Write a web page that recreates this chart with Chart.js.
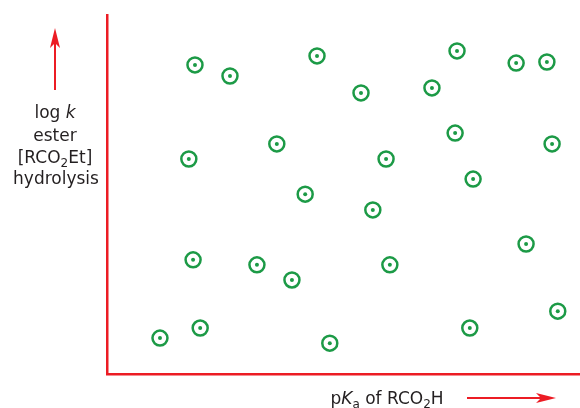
<!DOCTYPE html>
<html>
<head>
<meta charset="utf-8">
<script src="https://cdn.jsdelivr.net/npm/chart.js@4"></script>
<style>
  html, body { margin: 0; padding: 0; background: #fff; }
  #wrap { width: 580px; height: 408px; }
</style>
</head>
<body>
<div id="wrap"><canvas id="grafico"></canvas></div>
<script>
// pKa of RCO2H (arbitrary 0-100 units)
const valoresX = [18.6, 26.0, 44.4, 53.7, 68.7, 74.0, 86.5, 93.0,
    17.3, 35.9, 59.0, 73.6, 94.1, 41.9, 56.2, 77.4,
    18.2, 31.7, 39.1, 59.8, 88.6, 95.3, 11.2, 19.7, 47.1, 76.7];
// log k for ester hydrolysis (arbitrary 0-100 units)
const valoresY = [86.1, 83.0, 88.6, 78.3, 79.7, 90.0, 86.6, 86.9,
    59.9, 64.1, 59.9, 67.1, 64.1, 50.1, 45.7, 54.3,
    31.8, 30.4, 26.2, 30.4, 36.2, 17.5, 10.0, 12.8, 8.6, 12.8];

const VERMELHO = '#ec1c24';
const VERDE = '#1c9a46';
const FONTE = '"DejaVu Sans", sans-serif';

const pontos = valoresX.map((x, i) => ({ x: x, y: valoresY[i] }));

// texto com italico e subscrito, centrado em cx
const desenharTexto = (ctx, partes, cx, base) => {
    const fonte = (p) => (p.it ? 'italic ' : '') + (p.sub ? '12px ' : '17px ') + FONTE;
    let total = 0;
    partes.forEach((p) => { ctx.font = fonte(p); total += ctx.measureText(p.t).width; });
    let x = cx - total / 2;
    partes.forEach((p) => {
        ctx.font = fonte(p);
        ctx.fillText(p.t, x, base + (p.sub ? 4 : 0));
        x += ctx.measureText(p.t).width;
    });
};

const seta = (ctx, x1, y1, x2, y2) => {
    const ang = Math.atan2(y2 - y1, x2 - x1);
    const comp = 20, meia = 5;
    ctx.strokeStyle = VERMELHO;
    ctx.fillStyle = VERMELHO;
    ctx.lineWidth = 2;
    ctx.beginPath();
    ctx.moveTo(x1, y1);
    ctx.lineTo(x2 - Math.cos(ang) * comp * 0.6, y2 - Math.sin(ang) * comp * 0.6);
    ctx.stroke();
    const bx = x2 - Math.cos(ang) * comp, by = y2 - Math.sin(ang) * comp;
    ctx.beginPath();
    ctx.moveTo(x2, y2);
    ctx.lineTo(bx - Math.sin(ang) * meia, by + Math.cos(ang) * meia);
    ctx.lineTo(x2 - Math.cos(ang) * comp * 0.75, y2 - Math.sin(ang) * comp * 0.75);
    ctx.lineTo(bx + Math.sin(ang) * meia, by - Math.cos(ang) * meia);
    ctx.closePath();
    ctx.fill();
};

const rotulos = {
    id: 'rotulos',
    afterDraw(chart) {
        const ctx = chart.ctx;
        ctx.save();
        ctx.fillStyle = '#231f20';
        ctx.textBaseline = 'alphabetic';
        ctx.textAlign = 'left';
        desenharTexto(ctx, [{ t: 'log ' }, { t: 'k', it: true }], 55, 118);
        desenharTexto(ctx, [{ t: 'ester' }], 55, 141);
        desenharTexto(ctx, [{ t: '[RCO' }, { t: '2', sub: true }, { t: 'Et]' }], 55, 163);
        desenharTexto(ctx, [{ t: 'hydrolysis' }], 56, 184);
        desenharTexto(ctx, [{ t: 'p' }, { t: 'K', it: true }, { t: 'a', sub: true },
            { t: ' of RCO' }, { t: '2', sub: true }, { t: 'H' }], 387, 404);
        seta(ctx, 55, 90, 55, 28);
        seta(ctx, 467, 398, 556, 398);
        ctx.restore();
    }
};

new Chart(document.getElementById('grafico'), {
    type: 'scatter',
    data: {
        datasets: [{
            data: pontos,
            pointRadius: 2,
            pointBorderWidth: 0,
            pointBackgroundColor: VERDE,
            clip: false
        }, {
            data: pontos,
            pointRadius: 7.5,
            pointBorderWidth: 2.5,
            pointBorderColor: VERDE,
            pointBackgroundColor: 'rgba(255,255,255,0)',
            clip: false
        }]
    },
    options: {
        responsive: true,
        maintainAspectRatio: false,
        animation: false,
        layout: { autoPadding: false, padding: { left: 107, top: 15, right: 0, bottom: 34 } },
        plugins: { legend: { display: false }, tooltip: { enabled: false } },
        scales: {
            x: {
                min: 0, max: 100,
                ticks: { display: false },
                grid: { display: false, drawTicks: false, tickLength: 0 },
                border: { color: VERMELHO, width: 2.5 }
            },
            y: {
                min: 0, max: 100,
                ticks: { display: false },
                grid: { display: false, drawTicks: false, tickLength: 0 },
                border: { color: VERMELHO, width: 2.5 }
            }
        }
    },
    plugins: [rotulos]
});
</script>
</body>
</html>
